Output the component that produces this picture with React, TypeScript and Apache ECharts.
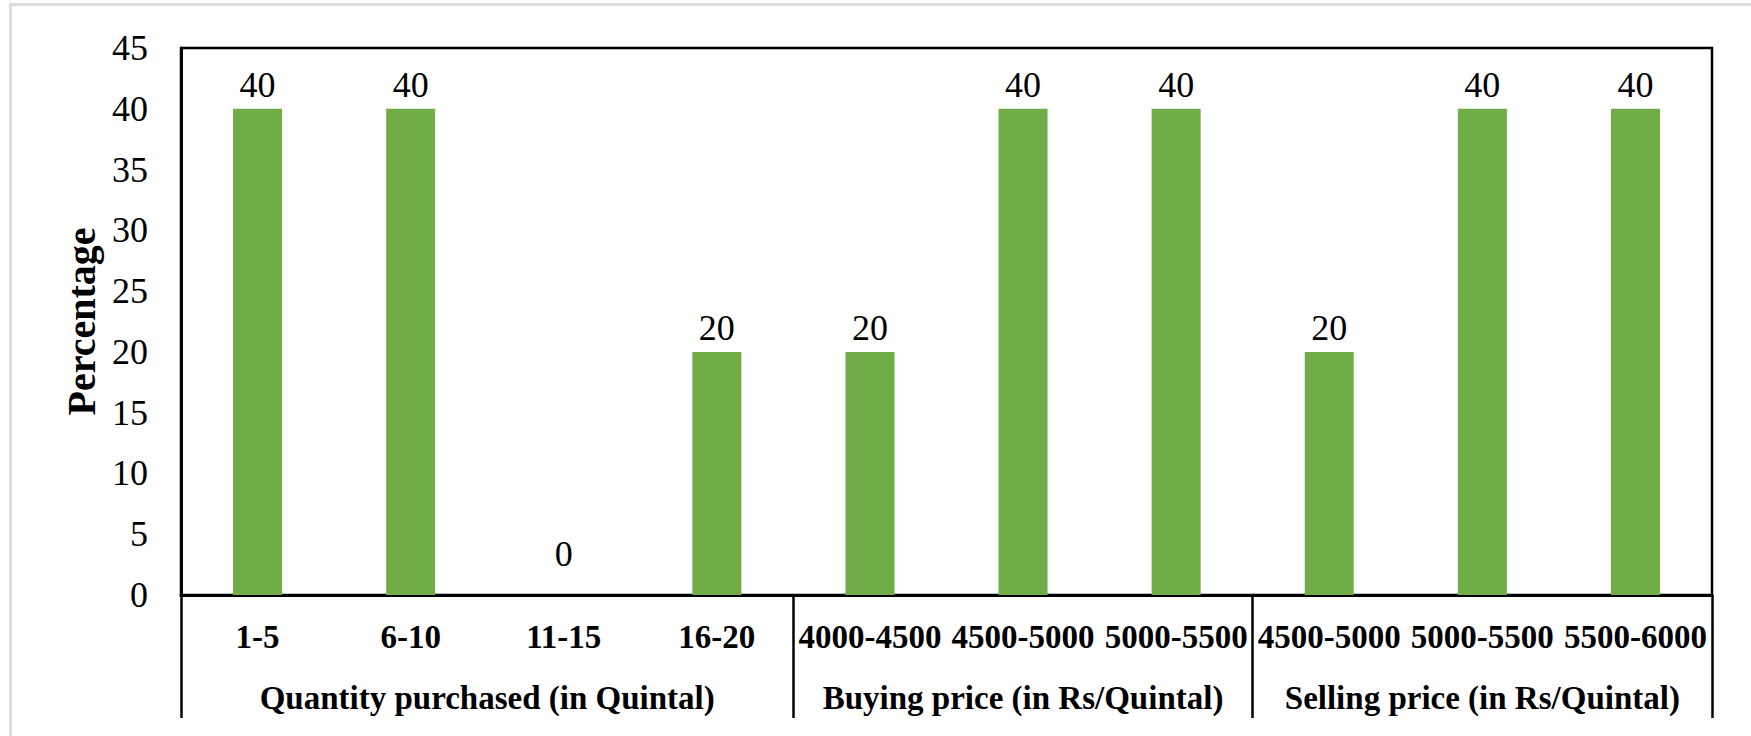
import React, { useEffect, useRef } from "react";
import * as echarts from "echarts";

const categories = [
  "1-5",
  "6-10",
  "11-15",
  "16-20",
  "4000-4500",
  "4500-5000",
  "5000-5500",
  "4500-5000",
  "5000-5500",
  "5500-6000",
];
const percentages = [40, 40, 0, 20, 20, 40, 40, 20, 40, 40];
const groupNames = [
  "Quantity purchased (in Quintal)",
  "Buying price (in Rs/Quintal)",
  "Selling price (in Rs/Quintal)",
];
const groupSizes = [4, 3, 3];
const yTicks = { min: 0, max: 45, interval: 5 };

const FONT = "'Liberation Serif', 'Times New Roman', serif";

export default function App() {
  const ref = useRef<HTMLDivElement>(null);

  useEffect(() => {
    if (!ref.current) return;
    const chart = echarts.init(ref.current, undefined, { renderer: "svg" });

    const boundaries: number[] = [0];
    groupSizes.forEach((s) => boundaries.push(boundaries[boundaries.length - 1] + s));
    const centers = groupSizes.map((s, i) => boundaries[i] + s / 2);

    chart.setOption({
      animation: false,
      backgroundColor: "#ffffff",
      textStyle: { fontFamily: FONT },
      graphic: [
        {
          type: "line",
          shape: { x1: 10, y1: 4.5, x2: 1751, y2: 4.5 },
          style: { stroke: "#dcdcdc", lineWidth: 3 },
          silent: true,
        },
        {
          type: "line",
          shape: { x1: 10.5, y1: 3, x2: 10.5, y2: 736 },
          style: { stroke: "#dcdcdc", lineWidth: 3 },
          silent: true,
        },
      ],
      grid: {
        left: 181,
        right: 39,
        top: 48,
        bottom: 141,
        show: true,
        borderColor: "#000",
        borderWidth: 2.5,
        backgroundColor: "transparent",
      },
      xAxis: [
        {
          type: "category",
          data: categories,
          position: "bottom",
          axisLine: { show: true, lineStyle: { color: "#000", width: 3 } },
          axisTick: { show: false },
          splitLine: { show: false },
          axisLabel: {
            interval: 0,
            color: "#000",
            fontFamily: FONT,
            fontWeight: "bold",
            fontSize: 33,
            margin: 25,
          },
        },
        {
          type: "value",
          position: "bottom",
          min: boundaries[0],
          max: boundaries[boundaries.length - 1],
          axisLine: { show: false },
          splitLine: { show: false },
          axisTick: {
            show: true,
            customValues: boundaries,
            length: 123,
            lineStyle: { color: "#000", width: 2.5 },
          },
          axisLabel: {
            customValues: centers,
            formatter: (v: number) => {
              const i = centers.indexOf(v);
              return i >= 0 ? groupNames[i] : "";
            },
            color: "#000",
            fontFamily: FONT,
            fontWeight: "bold",
            fontSize: 33,
            margin: 86,
          },
        },
      ],
      yAxis: {
        type: "value",
        min: yTicks.min,
        max: yTicks.max,
        interval: yTicks.interval,
        name: "Percentage",
        nameLocation: "middle",
        nameGap: 78,
        nameTextStyle: {
          color: "#000",
          fontFamily: FONT,
          fontWeight: "bold",
          fontSize: 40,
        },
        axisLine: { show: true, lineStyle: { color: "#000", width: 3 } },
        axisTick: { show: false },
        splitLine: { show: false },
        axisLabel: {
          color: "#000",
          fontFamily: FONT,
          fontSize: 36,
          margin: 33,
        },
      },
      series: [
        {
          type: "bar",
          xAxisIndex: 0,
          yAxisIndex: 0,
          data: percentages.map((v) =>
            v === 0 ? { value: v, label: { distance: 23 } } : v
          ),
          barWidth: 49,
          itemStyle: { color: "#70AD47" },
          label: {
            show: true,
            position: "top",
            distance: 6,
            color: "#000",
            fontFamily: FONT,
            fontSize: 36,
          },
        },
      ],
    });

    return () => chart.dispose();
  }, []);

  return (
    <div
      ref={ref}
      style={{ position: "fixed", left: 0, top: 0, width: 1751, height: 736 }}
    />
  );
}
